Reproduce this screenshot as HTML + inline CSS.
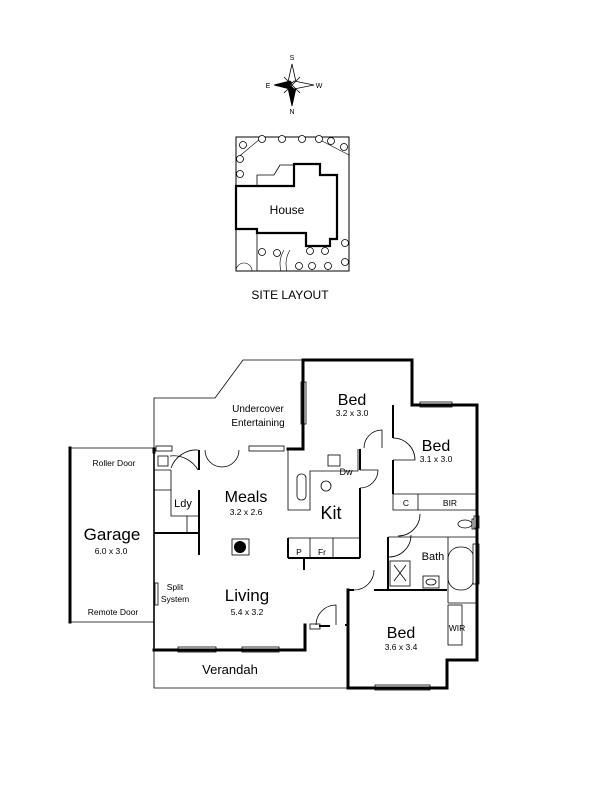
<!DOCTYPE html>
<html><head><meta charset="utf-8"><style>
html,body{margin:0;padding:0;background:#fff;}
svg{display:block;font-family:"Liberation Sans",Arial,sans-serif;}
</style></head><body>
<svg width="600" height="800" viewBox="0 0 600 800" xmlns="http://www.w3.org/2000/svg">
<rect width="600" height="800" fill="#fff"/>
<g stroke="#000" stroke-width="0.8">
<polygon points="292,64 296,82 292,86 288,82" fill="#fff"/>
<polygon points="292,106 296,88 292,84 288,88" fill="#000"/>
<polygon points="274,85 290,81 294,85 290,89" fill="#000"/>
<polygon points="314,85 294,81 290,85 294,89" fill="#fff"/>
<line x1="284" y1="77" x2="300" y2="93"/><line x1="300" y1="77" x2="284" y2="93"/>
</g>
<g font-size="7" text-anchor="middle"><text x="292" y="60">S</text><text x="292" y="114">N</text><text x="268" y="88">E</text><text x="319" y="88">W</text></g>
<g fill="none" stroke="#000">
<rect x="236" y="137" width="113" height="134" stroke-width="1"/>
<polyline points="257,186 257,175 274,175 280,165 294,165" stroke-width="0.8"/>
<line x1="257" y1="233" x2="257" y2="271" stroke-width="0.8"/>
<line x1="236" y1="186" x2="236" y2="229" stroke-width="0.8"/>
<line x1="236" y1="159" x2="260" y2="139" stroke-width="0.6"/>
<line x1="320" y1="140" x2="349" y2="155" stroke-width="0.6"/>
<path d="M236,271 a8,8 0 0 1 8,-8 M252,271 a8,8 0 0 0 -8,-8" stroke-width="0.6"/>
<path d="M284,250 q-6,10 -3,21 M290,250 q-6,10 -3,21" stroke-width="0.6"/>
<polygon points="236,186 294,186 294,164 320,164 320,175 337,175 337,239 330,239 330,246 306,246 306,233 257,233 257,229 236,229" stroke-width="2.2" fill="#fff"/>
</g>
<g fill="#fff" stroke="#000" stroke-width="0.8">
<circle cx="243" cy="145" r="3.5"/><circle cx="262" cy="139" r="3.5"/><circle cx="282" cy="139" r="3.5"/><circle cx="302" cy="139" r="3.5"/><circle cx="319" cy="139" r="3.5"/><circle cx="331" cy="141" r="3.5"/><circle cx="344" cy="147" r="3.5"/><circle cx="240" cy="159" r="3.5"/><circle cx="240" cy="174" r="3.5"/>
<circle cx="262" cy="252" r="3.5"/><circle cx="277" cy="253" r="3.5"/><circle cx="310" cy="251" r="3.5"/><circle cx="325" cy="251" r="3.5"/><circle cx="345" cy="243" r="3.5"/><circle cx="299" cy="266" r="3.5"/><circle cx="312" cy="266" r="3.5"/><circle cx="328" cy="266" r="3.5"/><circle cx="345" cy="262" r="3.5"/>
</g>
<text x="287" y="214" font-size="12" text-anchor="middle">House</text>
<text x="290" y="299" font-size="12" text-anchor="middle">SITE LAYOUT</text>
<g fill="none" stroke="#000" stroke-width="0.8">
<polyline points="154,449 154,398 215,398 243,360 303,360"/>
<line x1="70" y1="448" x2="154" y2="448"/><line x1="70" y1="622" x2="154" y2="622"/>
<polyline points="154,650 154,688 348,688"/>
<line x1="154" y1="449" x2="154" y2="650" stroke-width="1.6"/>
<polyline points="171,470 171,516 198,516"/><line x1="154" y1="470" x2="171" y2="470"/><line x1="154" y1="490" x2="171" y2="490"/><line x1="187" y1="516" x2="187" y2="533"/>
<rect x="158" y="456" width="10" height="10"/>
<path d="M171,468 a27,27 0 0 1 27,-18 M198,470 a28,28 0 0 0 -28,-14"/>
<path d="M205,450 a17,17 0 0 0 17,17 a17,17 0 0 0 17,-17" />
<polyline points="288,449 288,510 310,510 310,471 358,471 358,449"/>
<rect x="328" y="455" width="12" height="11"/>
<rect x="297" y="474" width="9" height="26" rx="4"/>
<circle cx="326" cy="486" r="5"/>
<line x1="288" y1="538" x2="360" y2="538"/><line x1="310" y1="538" x2="310" y2="558"/><line x1="333" y1="538" x2="333" y2="558"/>
<path d="M360,488 a18,18 0 0 0 18,-18 L360,470"/>
<path d="M364,448 a18,18 0 0 1 18,-18 L382,448"/>
<path d="M393,438 a22,22 0 0 1 22,22 L393,460"/>
<polyline points="393,494 393,510 477,510"/><line x1="418" y1="494" x2="418" y2="510"/><line x1="393" y1="494" x2="477" y2="494"/>
<path d="M420,514 a22,22 0 0 1 -22,22"/>
<path d="M389,557 a22,22 0 0 0 22,-22"/>
<line x1="388" y1="537" x2="477" y2="537"/>
<rect x="448" y="547" width="26" height="43" rx="12"/><line x1="448" y1="537" x2="448" y2="603"/>
<rect x="390" y="561" width="20" height="25"/><line x1="394" y1="565" x2="406" y2="581"/><line x1="406" y1="565" x2="394" y2="581"/>
<rect x="423" y="576" width="16" height="12"/><ellipse cx="431" cy="582" rx="5" ry="3"/>
<ellipse cx="465" cy="524" rx="7" ry="4"/><rect x="472" y="519" width="6" height="10"/>
<line x1="448" y1="603" x2="477" y2="603"/><rect x="448" y="605" width="14" height="40"/>
<path d="M354,590 a20,20 0 0 0 20,-20"/>
<path d="M316,625 a20,20 0 0 1 20,-20 L336,625"/>
<rect x="310" y="624" width="10" height="5"/>
<rect x="232" y="539" width="17" height="16"/>
<rect x="155" y="583" width="3" height="22"/>
</g>
<circle cx="240" cy="547" r="6" fill="#000"/>
<g fill="#fff" stroke="#000" stroke-width="0.8">
<rect x="156" y="446" width="16" height="5"/><rect x="249" y="446" width="35" height="5"/>
<rect x="301" y="382" width="5" height="42"/><rect x="420" y="402" width="32" height="5"/>
<rect x="473" y="544" width="6" height="40"/><rect x="474" y="516" width="5" height="12"/>
<rect x="178" y="647" width="38" height="5"/><rect x="242" y="647" width="37" height="5"/>
<rect x="375" y="685" width="55" height="5"/>
</g>
<g fill="none" stroke="#000" stroke-width="3" stroke-linecap="square">
<polyline points="303,424 303,360 412,360 412,405 477,405 477,660 447,660 447,688 348,688 348,612"/>
<line x1="348" y1="590" x2="348" y2="612"/>
<line x1="303" y1="382" x2="303" y2="449"/><line x1="288" y1="449" x2="303" y2="449"/>
<line x1="70" y1="448" x2="70" y2="622"/>
<polyline points="154,650 305,650 305,625"/>
<line x1="154" y1="449" x2="154" y2="452"/>
</g>
<g fill="none" stroke="#000" stroke-width="2">
<line x1="154" y1="533" x2="198" y2="533"/><line x1="199" y1="450" x2="199" y2="470"/><line x1="199" y1="490" x2="199" y2="555"/>
<line x1="360" y1="449" x2="360" y2="470"/><line x1="360" y1="488" x2="360" y2="558"/><line x1="288" y1="558" x2="360" y2="558"/><line x1="288" y1="538" x2="288" y2="558"/>
<line x1="304" y1="558" x2="304" y2="570"/>
<line x1="393" y1="405" x2="393" y2="438"/><line x1="393" y1="460" x2="393" y2="494"/>
<line x1="388" y1="537" x2="388" y2="590"/><line x1="374" y1="590" x2="447" y2="590"/><line x1="348" y1="590" x2="354" y2="590"/>
<line x1="319" y1="626" x2="330" y2="626"/><line x1="345" y1="625" x2="348" y2="625"/>
</g>
<g text-anchor="middle" fill="#000">
<text x="352" y="405" font-size="16">Bed</text><text x="352" y="416" font-size="8.5">3.2 x 3.0</text>
<text x="258" y="412" font-size="10">Undercover</text><text x="258" y="426" font-size="10">Entertaining</text>
<text x="436" y="451" font-size="16">Bed</text><text x="436" y="462" font-size="8.5">3.1 x 3.0</text>
<text x="114" y="466" font-size="8.5">Roller Door</text><text x="113" y="615" font-size="8.5">Remote Door</text>
<text x="112" y="540" font-size="17">Garage</text><text x="111" y="554" font-size="8.5">6.0 x 3.0</text>
<text x="183" y="507" font-size="11">Ldy</text>
<text x="246" y="502" font-size="16">Meals</text><text x="246" y="515" font-size="8.5">3.2 x 2.6</text>
<text x="346" y="475" font-size="9">Dw</text><text x="331" y="519" font-size="18">Kit</text>
<text x="299" y="555" font-size="8.5">P</text><text x="322" y="555" font-size="8.5">Fr</text>
<text x="433" y="560" font-size="11">Bath</text><text x="406" y="506" font-size="8.5">C</text><text x="450" y="506" font-size="8.5">BIR</text>
<text x="175" y="590" font-size="8.5">Split</text><text x="175" y="602" font-size="8.5">System</text>
<text x="247" y="601" font-size="17">Living</text><text x="247" y="615" font-size="8.5">5.4 x 3.2</text>
<text x="401" y="638" font-size="16">Bed</text><text x="401" y="650" font-size="8.5">3.6 x 3.4</text>
<text x="457" y="631" font-size="8.5">WIR</text>
<text x="230" y="674" font-size="13">Verandah</text>
</g>
</svg>
</body></html>
